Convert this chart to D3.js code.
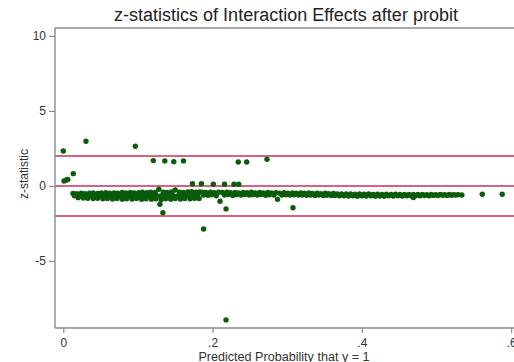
<!DOCTYPE html>
<html>
<head>
<meta charset="utf-8">
<script src="https://cdn.jsdelivr.net/npm/d3@7"></script>
<style>
  body { margin: 0; background: #fff; }
  svg { display: block; font-family: "Liberation Sans", Arial, sans-serif; }
</style>
</head>
<body>
<div id="chart-area"></div>
<script>
// horizontal reference lines
const refLines = [-2, 0, 2];
const xTicks = [0, 0.2, 0.4, 0.6];
const xTickLabels = ['0', '.2', '.4', '.6'];
const yTicks = [-5, 0, 5, 10];
const yTickLabels = ['-5', '0', '5', '10'];

// isolated points [predicted prob, z]
const outliers = [
  [0.000, 2.33], [0.0304, 2.98], [0.0965, 2.65],
  [0.1206, 1.69], [0.136, 1.67], [0.148, 1.62], [0.161, 1.67],
  [0.2344, 1.60], [0.2457, 1.60], [0.2729, 1.78],
  [0.001, 0.33], [0.004, 0.40], [0.006, 0.43], [0.0134, 0.82],
  [0.173, 0.15], [0.185, 0.15], [0.201, 0.11], [0.216, 0.11], [0.2287, 0.11], [0.235, 0.11],
  [0.1335, -1.78], [0.218, -1.53], [0.3077, -1.45],
  [0.188, -2.87], [0.218, -8.93],
  [0.5613, -0.55], [0.588, -0.55]
];

// dense band, left part (three rows)
const bandLeft = [
  [0.013, -0.50], [0.018, -0.52], [0.024, -0.48], [0.029, -0.51], [0.035, -0.49], [0.040, -0.46],
  [0.046, -0.50], [0.051, -0.47], [0.057, -0.45], [0.062, -0.49], [0.068, -0.46], [0.073, -0.48],
  [0.079, -0.44], [0.084, -0.47], [0.090, -0.43], [0.095, -0.46], [0.101, -0.45], [0.106, -0.42],
  [0.112, -0.45], [0.117, -0.41], [0.123, -0.44], [0.128, -0.22], [0.134, -0.42], [0.139, -0.44],
  [0.145, -0.40], [0.150, -0.27], [0.156, -0.41], [0.161, -0.43], [0.167, -0.40], [0.172, -0.39],
  [0.178, -0.42], [0.183, -0.40],
  [0.015, -0.66], [0.021, -0.68], [0.026, -0.67], [0.032, -0.69], [0.037, -0.66], [0.043, -0.70],
  [0.048, -0.67], [0.054, -0.69], [0.059, -0.65], [0.065, -0.68], [0.070, -0.66], [0.076, -0.70],
  [0.081, -0.67], [0.087, -0.69], [0.092, -0.66], [0.098, -0.68], [0.103, -0.65], [0.109, -0.69],
  [0.114, -0.66], [0.120, -0.68], [0.125, -0.64], [0.131, -0.67], [0.136, -0.65], [0.142, -0.68],
  [0.147, -0.64], [0.153, -0.66], [0.158, -0.63], [0.164, -0.67], [0.169, -0.64], [0.175, -0.66],
  [0.180, -0.63],
  [0.020, -0.78], [0.027, -0.80], [0.033, -0.82], [0.040, -0.84], [0.046, -0.82], [0.053, -0.86],
  [0.059, -0.83], [0.066, -0.87], [0.072, -0.84], [0.079, -0.88], [0.085, -0.85], [0.092, -0.87],
  [0.098, -0.84], [0.105, -0.89], [0.111, -0.86], [0.118, -0.88], [0.124, -0.85], [0.1295, -1.22],
  [0.131, -0.90], [0.137, -0.86], [0.144, -0.88], [0.150, -0.84], [0.157, -0.87], [0.163, -0.83],
  [0.170, -0.86], [0.176, -0.82], [0.182, -0.84]
];

// dense band, middle part (two rows)
const bandMiddle = [
  [0.186, -0.42], [0.191, -0.44], [0.197, -0.41], [0.202, -0.45], [0.208, -0.42], [0.213, -0.44],
  [0.219, -0.41], [0.224, -0.45], [0.230, -0.43], [0.235, -0.46], [0.241, -0.43], [0.246, -0.45],
  [0.252, -0.42], [0.257, -0.46], [0.263, -0.44], [0.268, -0.47], [0.274, -0.44], [0.279, -0.46],
  [0.285, -0.45], [0.290, -0.48], [0.296, -0.45], [0.301, -0.48], [0.307, -0.46], [0.312, -0.49],
  [0.318, -0.47], [0.323, -0.49], [0.329, -0.47], [0.334, -0.50], [0.340, -0.48], [0.345, -0.51],
  [0.351, -0.49], [0.356, -0.52], [0.362, -0.50], [0.367, -0.53],
  [0.188, -0.60], [0.194, -0.62], [0.199, -0.58], [0.205, -0.66], [0.210, -1.02], [0.216, -0.60],
  [0.221, -0.57], [0.227, -0.63], [0.232, -0.58], [0.238, -0.60], [0.243, -0.57], [0.249, -0.61],
  [0.254, -0.58], [0.260, -0.60], [0.265, -0.57], [0.271, -0.62], [0.276, -0.59], [0.282, -0.60],
  [0.287, -0.89], [0.293, -0.61], [0.298, -0.58], [0.304, -0.60], [0.309, -0.59], [0.315, -0.61],
  [0.320, -0.60], [0.326, -0.62], [0.331, -0.60], [0.337, -0.63], [0.342, -0.61], [0.348, -0.63],
  [0.353, -0.62], [0.359, -0.64], [0.364, -0.63], [0.370, -0.65]
];

// dense band, right part (two rows merging)
const bandRight = [
  [0.373, -0.53], [0.379, -0.54], [0.385, -0.53], [0.391, -0.55], [0.397, -0.54], [0.403, -0.55],
  [0.409, -0.54], [0.415, -0.56], [0.421, -0.55], [0.427, -0.56], [0.433, -0.55], [0.439, -0.56],
  [0.445, -0.55], [0.451, -0.57], [0.457, -0.56], [0.463, -0.57], [0.469, -0.56], [0.475, -0.57],
  [0.481, -0.56], [0.487, -0.58], [0.493, -0.57], [0.499, -0.58], [0.505, -0.57], [0.511, -0.58],
  [0.517, -0.57], [0.523, -0.58], [0.529, -0.58],
  [0.376, -0.66], [0.382, -0.67], [0.388, -0.66], [0.394, -0.68], [0.400, -0.66], [0.406, -0.67],
  [0.412, -0.66], [0.418, -0.68], [0.424, -0.67], [0.430, -0.68], [0.436, -0.66], [0.442, -0.67],
  [0.448, -0.66], [0.454, -0.67], [0.460, -0.65], [0.466, -0.66], [0.469, -0.77], [0.472, -0.65],
  [0.478, -0.66], [0.484, -0.64], [0.490, -0.65], [0.496, -0.63], [0.502, -0.64], [0.508, -0.62],
  [0.514, -0.63], [0.520, -0.62], [0.526, -0.61], [0.534, -0.60]
];

const width = 514;
const height = 362;
const plotLeft = 55, plotRight = 521.6, plotTop = 28, plotBottom = 328;

const svg = d3.select('#chart-area')
  .append('svg')
  .attr('width', width)
  .attr('height', height);

const x = d3.scaleLinear().domain([-0.0111, 0.614]).range([plotLeft, plotRight]);
const y = d3.scaleLinear().domain([-9.47, 10.53]).range([plotBottom, plotTop]);

const axisColor = '#8c8c8c';
const dotColor = '#0a5c0a';
const lineColor = '#cf2d55';

// title
svg.append('text')
  .attr('x', 286)
  .attr('y', 21)
  .attr('text-anchor', 'middle')
  .attr('font-size', '18px')
  .attr('fill', '#222')
  .text('z-statistics of Interaction Effects after probit');

// plot frame top
svg.append('line')
  .attr('x1', plotLeft).attr('x2', plotRight + 10)
  .attr('y1', plotTop).attr('y2', plotTop)
  .attr('stroke', axisColor).attr('stroke-width', 1.4);

// reference lines
svg.selectAll('line.ref')
  .data(refLines)
  .enter().append('line')
  .attr('class', 'ref')
  .attr('x1', plotLeft).attr('x2', plotRight + 10)
  .attr('y1', d => y(d)).attr('y2', d => y(d))
  .attr('stroke', lineColor)
  .attr('stroke-width', 1.6);

// points
const allPoints = bandLeft.concat(bandMiddle, bandRight, outliers);
svg.append('g')
  .selectAll('circle')
  .data(allPoints)
  .enter().append('circle')
  .attr('cx', d => x(d[0]))
  .attr('cy', d => y(d[1]))
  .attr('r', 2.7)
  .attr('fill', dotColor);

// y axis
const yAxis = d3.axisLeft(y)
  .tickValues(yTicks)
  .tickSize(6)
  .tickPadding(3)
  .tickFormat((d, i) => yTickLabels[i]);

const gy = svg.append('g')
  .attr('transform', `translate(${plotLeft},0)`)
  .call(yAxis);
gy.select('.domain').remove();
gy.append('line')
  .attr('x1', 0).attr('x2', 0)
  .attr('y1', plotTop).attr('y2', plotBottom)
  .attr('stroke', axisColor).attr('stroke-width', 1.4);
gy.selectAll('.tick line').attr('stroke', axisColor).attr('stroke-width', 1.2);
gy.selectAll('.tick text')
  .attr('font-size', '12px')
  .attr('fill', '#333')
  .attr('font-family', '"Liberation Sans", Arial, sans-serif');

// x axis
const xAxis = d3.axisBottom(x)
  .tickValues(xTicks)
  .tickSize(5)
  .tickPadding(5)
  .tickFormat((d, i) => xTickLabels[i]);

const gx = svg.append('g')
  .attr('transform', `translate(0,${plotBottom})`)
  .call(xAxis);
gx.select('.domain').remove();
gx.append('line')
  .attr('x1', plotLeft).attr('x2', plotRight + 10)
  .attr('y1', 0).attr('y2', 0)
  .attr('stroke', axisColor).attr('stroke-width', 1.4);
gx.selectAll('.tick line').attr('stroke', axisColor).attr('stroke-width', 1.2);
gx.selectAll('.tick text')
  .attr('font-size', '12px')
  .attr('fill', '#333')
  .attr('font-family', '"Liberation Sans", Arial, sans-serif');

// axis titles
svg.append('text')
  .attr('x', 284)
  .attr('y', 361)
  .attr('text-anchor', 'middle')
  .attr('font-size', '12.6px')
  .attr('fill', '#333')
  .text('Predicted Probability that y = 1');

svg.append('text')
  .attr('transform', `translate(28,174) rotate(-90)`)
  .attr('text-anchor', 'middle')
  .attr('font-size', '12px')
  .attr('fill', '#333')
  .text('z-statistic');
</script>
</body>
</html>
